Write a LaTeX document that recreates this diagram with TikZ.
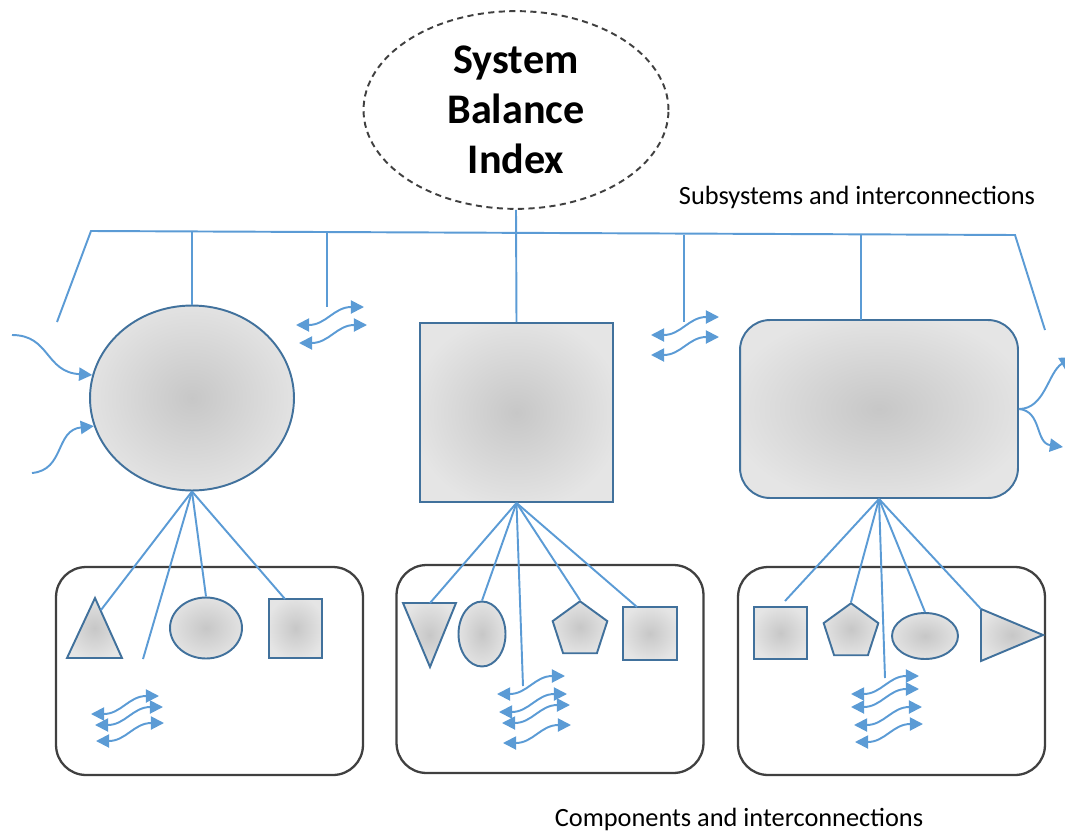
\documentclass[tikz,border=0pt]{standalone}
\usepackage{fontspec}
\setmainfont{Carlito}
\usetikzlibrary{calc,shapes.geometric,arrows.meta}
\definecolor{linkblue}{HTML}{5B9BD5}
\definecolor{edgeblue}{HTML}{41719C}
\definecolor{boxgray}{HTML}{404040}
\pgfdeclareradialshading{softgray}{\pgfpoint{0bp}{0bp}}{color(0bp)=(gray!44); color(28bp)=(gray!20); color(50bp)=(gray!20)}
\def\wavearrow(#1){\draw[wave] ($(#1)+(-34,9)$) .. controls +(30,0) and +(-30,0) .. ($(#1)+(34,-9)$);}
\tikzset{
	>={Triangle[length=7.5pt,width=7.5pt]},
	link/.style={draw=linkblue, line width=1.1pt},
	wave/.style={link, <->},
	part/.style={draw=edgeblue, line width=1.1pt, shading=softgray, inner sep=0pt},
	group/.style={draw=boxgray, line width=1.3pt, rounded corners=0.6cm, minimum width=6.14cm, minimum height=4.16cm},
	note/.style={font=\fontsize{15}{17}\selectfont, anchor=base},
}

\begin{document}
\begin{tikzpicture}[x=0.02cm, y=-0.02cm]
		%%%%% START %%%%%
		\useasboundingbox (0,0) rectangle (1065,832);
		
		\node[ellipse, draw=black!75, dash pattern=on 3.5pt off 2.5pt, line width=1.1pt, minimum width=6.1cm, minimum height=3.9cm, align=center, font=\bfseries\fontsize{24}{28.5}\selectfont] (sbi) at (516,110) {System\\Balance\\Index};
		\node[note] (subtxt) at (857,204) {Subsystems and interconnections};
		\node[note] (comptxt) at (739,826) {Components and interconnections};
		
		% subsystems
		\node[part, ellipse, minimum width=4.08cm, minimum height=3.7cm] (sub1) at (192,398) {};
		\node[part, rectangle, minimum width=3.86cm, minimum height=3.58cm] (sub2) at (516.5,412.5) {};
		\node[part, rectangle, rounded corners=0.6cm, minimum width=5.56cm, minimum height=3.56cm] (sub3) at (879,409) {};
		
		% bus
		\coordinate (busL) at (91,231);
		\coordinate (busR) at (1015,235);
		\coordinate (endL) at (57,322);
		\coordinate (endR) at (1045,330);
		\coordinate (tap1) at (327,307);
		\coordinate (tap2) at (684,322);
		\coordinate (tap3) at (861,320);
		\draw[link] (endL) -- (busL) -- (busR) -- (endR);
		\draw[link] (sbi.south) -- (sub2.north);
		\draw[link] (sub1.north |- busL) -- (sub1.north);
		\draw[link] (tap1 |- busL) -- (tap1);
		\draw[link] (tap2 |- busR) -- (tap2);
		\draw[link] (tap3 |- busR) -- (tap3);
		
		\wavearrow(330,316)
		\wavearrow(333,334)
		\wavearrow(685,326)
		\wavearrow(685,346)
		
		% flows in and out
		\coordinate (in1) at (12,335);
		\coordinate (in2) at (32,473);
		\coordinate (out1) at (1073,357);
		\coordinate (out2) at (1063,447);
		\draw[link, ->] (in1) .. controls (50,335) and (45,372) .. (sub1.167);
		\draw[link, ->] (in2) .. controls (65,470) and (55,430) .. (sub1.196);
		\draw[link, ->] (sub3.east) .. controls (1045,409) and (1048,372) .. (out1);
		\draw[link, ->] (sub3.east) .. controls (1042,411) and (1035,443) .. (out2);
		
		% component groups
		\node[group] (grp1) at (209.5,671) {};
		\node[group] (grp2) at (550,669) {};
		\node[group] (grp3) at (891.5,671) {};
		
		% group 1
		\path[part] (67,658) -- (95,598) -- (122,658) -- cycle;
		\node[part, ellipse, minimum width=1.44cm, minimum height=1.22cm] (ell1) at (206,628) {};
		\node[part, rectangle, minimum width=1.06cm, minimum height=1.18cm] (sq1) at (295.5,628.5) {};
		\coordinate (tri1) at (101,610);
		\coordinate (free1) at (143,659);
		\coordinate (hook1) at (285,599);
		\foreach \t in {tri1, free1, ell1.north, hook1}
			\draw[link] (sub1.south) -- (\t);
		\wavearrow(125,705)
		\wavearrow(129,716)
		\wavearrow(130,732)
		
		% group 2
		\path[part] (403,603) -- (456,603) -- (430,667) -- cycle;
		\node[part, ellipse, minimum width=0.94cm, minimum height=1.3cm] (ell2) at (482,634) {};
		\node[part, regular polygon, regular polygon sides=5, minimum size=1.15cm] (pent2) at (580,630) {};
		\node[part, rectangle, minimum width=1.08cm, minimum height=1.06cm] (sq2) at (650,633.5) {};
		\coordinate (tri2) at (430,603);
		\coordinate (free2) at (523,686);
		\coordinate (hook2) at (637,607);
		\foreach \t in {tri2, ell2.north, free2, pent2.corner 1, hook2}
			\draw[link] (sub2.south) -- (\t);
		\wavearrow(531,685)
		\wavearrow(533,703)
		\wavearrow(536,714)
		\wavearrow(537,734)
		
		% group 3
		\node[part, rectangle, minimum width=1.06cm, minimum height=1.04cm] (sq3) at (780.5,633) {};
		\node[part, regular polygon, regular polygon sides=5, minimum size=1.15cm] (pent3) at (851,632) {};
		\node[part, ellipse, minimum width=1.32cm, minimum height=0.92cm] (ell3) at (925,636) {};
		\path[part] (981,609) -- (1043,635) -- (981,661) -- cycle;
		\coordinate (free3) at (785,601);
		\coordinate (free4) at (885,678);
		\coordinate (tri3) at (981,609);
		\foreach \t in {free3, pent3.corner 1, free4, ell3.north, tri3}
			\draw[link] (sub3.south) -- (\t);
		\wavearrow(885,685)
		\wavearrow(885,698)
		\wavearrow(888,716)
		\wavearrow(889,733)
		
		%%%%% END %%%%%
\end{tikzpicture}
\end{document}
